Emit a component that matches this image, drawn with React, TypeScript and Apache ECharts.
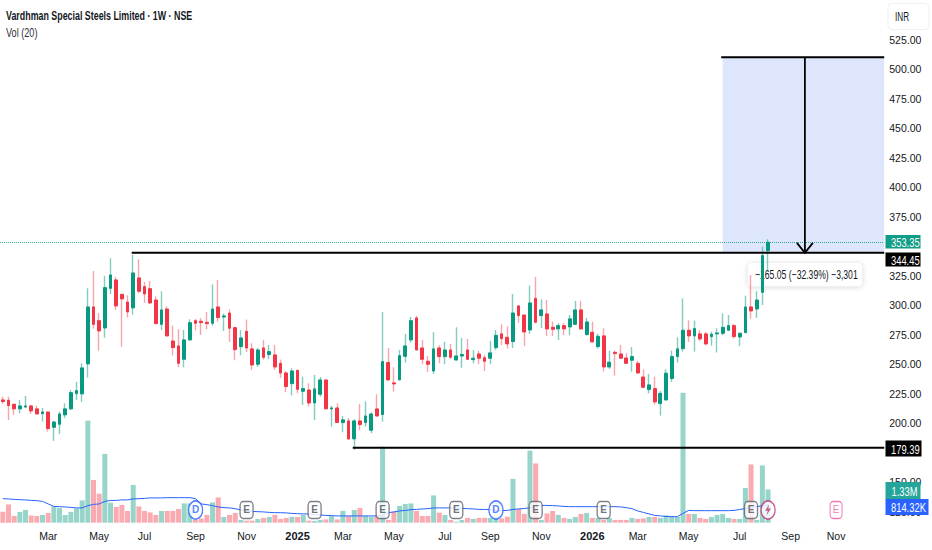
import React, { useEffect, useRef } from "react";
import * as echarts from "echarts";

const FONT = "'Liberation Sans', sans-serif";
const TITLE = "Vardhman Special Steels Limited · 1W · NSE";
const VOL_TITLE = "Vol (20)";

// weekly candles: open, close, low, high
const candles: number[][] = [
[219.9,218.5,216.5,222.7],[219.6,215.1,202.9,222.7],[216.2,212.3,207.2,216.5],[212.3,214.8,208.6,219.9],[213.9,214.8,212.8,223.3],
[214.8,210.6,208.0,215.6],[212.3,208.0,208.0,215.1],[208.3,209.7,201.5,213.1],[209.7,195.6,193.1,209.7],[196.7,201.2,185.2,202.1],
[199.3,208.0,191.1,210.0],[207.2,212.3,204.4,217.0],[212.3,226.1,211.4,228.3],[225.2,227.8,219.9,235.1],[225.0,247.0,218.2,250.9],
[250.4,298.6,238.8,314.4],[298.6,283.9,280.3,329.1],[287.0,278.3,261.6,293.5],[280.8,315.0,272.6,324.9],[314.4,325.7,309.6,339.8],
[321.5,299.5,296.1,324.0],[309.3,305.4,265.0,309.6],[302.8,294.4,289.6,308.5],[297.8,327.4,292.1,342.6],[323.2,311.9,310.2,339.0],
[315.8,309.6,302.0,319.8],[314.1,302.0,300.9,320.6],[304.5,284.5,283.9,307.6],[283.9,296.1,279.1,311.9],[296.9,274.1,273.5,299.2],
[269.8,264.2,257.4,282.8],[265.6,250.9,247.5,279.7],[254.3,270.7,247.5,279.1],[270.7,285.3,270.1,288.2],[287.0,284.8,278.9,288.5],
[286.5,285.3,274.9,289.3],[285.6,284.5,279.7,294.4],[284.8,296.9,282.8,317.8],[298.6,289.6,286.2,321.5],[290.1,291.0,278.3,293.2],
[293.5,280.6,269.0,296.6],[281.1,262.5,253.5,281.7],[265.0,272.4,257.7,279.1],[278.0,263.9,260.5,287.9],[263.1,249.5,245.3,267.9],
[250.1,262.2,247.8,263.9],[263.9,256.0,254.0,270.7],[258.3,260.8,254.3,266.4],[258.0,247.8,245.3,266.4],[250.9,242.7,238.5,254.0],
[242.7,231.2,226.4,244.4],[233.7,244.4,223.8,246.7],[245.0,228.9,225.5,245.3],[227.2,229.5,215.6,239.6],[228.3,217.3,214.2,234.0],
[217.3,229.2,202.9,241.0],[224.7,236.8,222.7,239.3],[236.8,212.3,212.0,237.1],[212.3,213.1,197.3,214.8],[213.1,200.7,200.7,217.0],
[200.7,203.0,192.5,206.3],[202.1,186.9,186.0,204.4],[186.9,202.1,177.5,203.5],[202.1,199.0,194.2,216.5],[200.7,206.3,197.3,218.7],
[194.2,208.0,191.7,209.4],[212.3,206.3,205.8,224.7],[207.5,252.3,201.5,294.4],[251.5,236.8,236.2,263.9],[234.3,233.4,226.9,247.5],
[236.8,257.4,236.8,262.2],[256.8,265.6,251.5,275.8],[270.7,287.0,268.4,290.1],[289.3,262.2,261.6,291.0],[263.9,254.3,250.1,270.7],
[252.6,250.1,243.6,257.1],[244.4,263.1,241.9,277.2],[263.9,256.6,250.9,266.4],[256.6,262.2,250.1,269.0],[262.2,256.0,254.6,267.3],
[253.7,257.1,253.2,281.4],[257.1,258.3,247.0,272.4],[262.2,254.3,253.7,271.5],[254.0,255.2,250.9,262.2],[258.8,255.2,250.1,261.4],
[255.7,252.6,244.4,258.0],[255.2,259.7,250.1,269.8],[264.2,274.6,262.2,279.1],[275.8,271.8,266.4,283.9],[272.9,267.3,263.3,282.2],
[269.3,293.5,263.9,309.6],[299.5,291.3,285.3,300.0],[291.8,277.4,265.6,291.8],[279.1,302.0,275.8,316.7],[305.9,285.6,284.8,324.0],
[291.3,296.1,280.6,305.1],[292.7,280.0,274.1,304.5],[281.4,279.7,274.1,286.2],[280.0,282.8,270.7,284.8],[282.8,280.0,274.6,284.8],
[281.7,288.5,274.6,291.8],[283.9,296.1,283.7,303.7],[296.1,280.0,279.1,303.7],[275.2,285.9,274.6,289.3],[277.2,269.0,268.7,286.2],
[265.0,273.8,263.3,275.8],[274.1,247.8,243.9,280.6],[247.8,251.8,246.1,261.6],[260.2,259.1,240.5,261.6],[258.8,255.2,254.6,266.4],
[255.4,250.9,250.4,259.4],[253.5,256.6,243.9,264.7],[250.9,242.7,242.2,252.9],[239.3,230.6,229.8,245.8],[228.6,232.6,225.5,241.9],
[229.5,218.2,216.0,239.6],[216.8,225.5,206.6,227.5],[219.9,242.5,219.3,245.8],[238.0,256.6,235.1,261.6],[256.6,263.1,251.5,272.9],
[263.3,278.9,260.8,305.9],[278.9,274.1,269.0,287.3],[274.1,280.3,260.8,287.0],[275.8,271.5,269.8,279.1],[275.8,267.3,266.2,277.4],
[273.5,275.5,265.9,277.7],[275.8,276.6,260.0,280.6],[276.3,281.4,274.6,293.2],[278.9,282.8,278.3,291.8],[282.8,273.5,271.8,284.2],
[273.2,276.3,265.6,276.9],[276.9,298.6,276.3,308.2],[298.6,295.2,288.7,325.7],[296.9,304.5,289.3,311.9],[311.0,342.1,300.3,349.7],
[346.3,353.35,328.5,355.9],
];

// weekly volume, millions
const volumes = [
.44,.73,.27,.43,.51,.29,.27,.31,.39,.65,.59,.31,.43,.57,.89,4.08,1.71,1.16,2.75,.80,
.63,.71,.47,1.51,.65,.47,.41,.31,.47,.47,.47,.55,.77,.77,.11,.17,.31,.81,1.01,.23,
.31,.39,.11,.08,.08,.15,.19,.23,.31,.15,.19,.23,.23,.31,.08,.07,.11,.13,.27,.13,
.47,.27,.51,.59,.27,.23,.27,3.04,.11,.44,.67,.75,.77,.47,.27,.27,1.09,.40,.31,.11,
.04,.11,.19,.15,.19,.19,.19,.27,.17,.24,1.75,.55,.35,2.88,2.37,.11,.37,.47,.31,.19,
.15,.23,.35,.39,.19,.19,.11,.19,.11,.11,.11,.19,.15,.17,.23,.23,.19,.29,.24,.23,
5.2,.35,.35,.19,.15,.23,.31,.35,.19,.15,.15,1.39,2.33,.11,2.29,1.33,
];

// Vol (20) average line, millions
const volumeAverage = [
.96,.95,.93,.92,.91,.89,.88,.85,.75,.65,.64,.63,.61,.59,.59,.68,.73,.75,.85,.89,
.89,.91,.91,.95,.96,.97,.99,.99,.99,1.0,1.0,1.0,1.0,1.0,.96,.75,.72,.68,.63,.60,
.59,.56,.51,.49,.45,.44,.43,.41,.40,.40,.39,.37,.36,.35,.35,.32,.31,.29,.28,.27,
.27,.27,.27,.27,.27,.27,.27,.29,.40,.43,.47,.49,.52,.53,.55,.56,.59,.59,.59,.59,
.59,.57,.56,.55,.53,.53,.52,.48,.48,.49,.53,.55,.57,.59,.64,.69,.69,.68,.67,.65,
.64,.64,.64,.64,.64,.64,.64,.64,.64,.63,.60,.56,.47,.41,.35,.29,.27,.25,.24,.24,
.37,.49,.48,.48,.48,.48,.48,.48,.48,.49,.53,.56,.61,.64,.68,.71,
];

const weekCount = 156;
const categories = Array.from({ length: weekCount }, (_, i) => `w${i}`);
const monthTicks: [number, string][] = [
  [8, "Mar"],[17, "May"],[25, "Jul"],[34, "Sep"],[43, "Nov"],[52, "2025"],[60, "Mar"],[69, "May"],[78, "Jul"],
  [86, "Sep"],[95, "Nov"],[104, "2026"],[112, "Mar"],[121, "May"],[130, "Jul"],[139, "Sep"],[147, "Nov"],
];
const hiddenPriceTicks = [100, 175, 350, 550];

const lastPrice = 353.35;
const resistance = 344.45;
const support = 179.39;
const targetPrice = 510;
const volumeLabel = "1.33M";
const averageLabel = "814.32K";
const measureLabel = "−165.05 (−32.39%) −3,301";
// start week of each horizontal drawing, price
const levels: [number, number][] = [[23, resistance], [62, support], [127, targetPrice]];
const targetStart = 127;
const arrowWeek = 141;

const earningsWeeks = [43, 55, 67, 80, 94, 106, 132];
const dividendWeeks = [34, 87];
const splitWeek = 135;
const futureEarningsWeek = 147;
const markerLevel = 0.507;

const UP = "#089981";
const DOWN = "#F23645";

const squeezed = (text: string, x: number, y: number, fill: string, fontSize = 12.5, scaleX = 0.75, z = 21) => ({
  type: "text",
  x,
  y,
  z,
  scaleX,
  style: { text, fontFamily: FONT, fontSize, fill },
});

export default function App() {
  const ref = useRef<HTMLDivElement>(null);
  useEffect(() => {
    document.body.style.margin = "0";
    const chart = echarts.init(ref.current!, undefined, { renderer: "svg" });
    const tickMap = new Map(monthTicks);
    const lastWeek = weekCount - 1;

    const rightEdge = (api: any, price: number) =>
      api.coord([lastWeek, price])[0] + api.size([1, 0])[0] / 2;

    chart.setOption({
      animation: false,
      backgroundColor: "#fff",
      grid: [
        { left: -1.84, width: 886.08, top: 10.06, height: 531.45 },
        { left: -1.84, width: 886.08, top: 322.67, height: 200 },
      ],
      xAxis: [
        { type: "category", gridIndex: 0, data: categories, show: false },
        {
          type: "category",
          gridIndex: 1,
          data: categories,
          axisLine: { show: false },
          axisTick: { show: false },
          splitLine: { show: false },
          axisLabel: {
            interval: (i: number) => tickMap.has(i),
            hideOverlap: false,
            margin: 8,
            fontFamily: FONT,
            fontSize: 10.5,
            color: "#131722",
            formatter: (_: string, i: number) => {
              const t = tickMap.get(i) ?? "";
              return /^\d+$/.test(t) ? `{y|${t}}` : t;
            },
            rich: { y: { fontFamily: FONT, fontSize: 11, fontWeight: "bold", color: "#131722" } },
          },
        },
      ],
      yAxis: [
        {
          type: "value",
          gridIndex: 0,
          position: "right",
          min: 100,
          max: 550,
          interval: 25,
          axisLine: { show: false },
          axisTick: { show: false },
          splitLine: { show: false },
          axisLabel: {
            margin: 5,
            fontFamily: FONT,
            fontSize: 10.5,
            color: "#131722",
            formatter: (v: number) => (hiddenPriceTicks.includes(v) ? "" : v.toFixed(2)),
          },
        },
        { type: "value", gridIndex: 1, min: 0, max: 8, show: false },
      ],
      series: [
        {
          name: "Target zone",
          type: "custom",
          xAxisIndex: 0,
          yAxisIndex: 0,
          z: 1,
          data: [[targetStart, targetPrice]],
          renderItem: (_: any, api: any) => {
            const a = api.coord([targetStart, targetPrice]);
            const b = api.coord([lastWeek, resistance]);
            return {
              type: "rect",
              shape: { x: a[0], y: a[1], width: rightEdge(api, resistance) - a[0], height: b[1] - a[1] - 1 },
              style: { fill: "#dee6fd" },
            };
          },
        },
        {
          name: "Volume",
          type: "bar",
          xAxisIndex: 1,
          yAxisIndex: 1,
          barWidth: 5,
          z: 2,
          data: volumes,
          itemStyle: {
            color: (p: any) =>
              candles[p.dataIndex][1] >= candles[p.dataIndex][0] ? "rgba(8,153,129,0.42)" : "rgba(242,54,69,0.42)",
          },
        },
        {
          name: "Vol MA",
          type: "line",
          xAxisIndex: 1,
          yAxisIndex: 1,
          z: 3,
          symbol: "none",
          data: volumeAverage,
          lineStyle: { color: "#2962ff", width: 1 },
        },
        {
          name: "Wicks",
          type: "candlestick",
          xAxisIndex: 0,
          yAxisIndex: 0,
          z: 4,
          barWidth: 1,
          data: candles,
          itemStyle: {
            color: "rgba(8,153,129,0.5)",
            color0: "rgba(242,54,69,0.45)",
            borderColor: "rgba(8,153,129,0.5)",
            borderColor0: "rgba(242,54,69,0.45)",
            borderWidth: 1.4,
          },
          markLine: {
            silent: true,
            symbol: "none",
            label: { show: false },
            lineStyle: { color: UP, type: "dotted", width: 1, opacity: 0.8 },
            data: [{ yAxis: lastPrice }],
          },
        },
        {
          name: "Bodies",
          type: "candlestick",
          xAxisIndex: 0,
          yAxisIndex: 0,
          z: 5,
          barWidth: 3.2,
          data: candles.map(([o, c]) => [o, c, Math.min(o, c), Math.max(o, c)]),
          itemStyle: { color: UP, color0: DOWN, borderColor: UP, borderColor0: DOWN, borderWidth: 1 },
        },
        {
          name: "Levels",
          type: "custom",
          xAxisIndex: 0,
          yAxisIndex: 0,
          z: 6,
          data: levels,
          renderItem: (p: any, api: any) => {
            const [week, price] = levels[p.dataIndex];
            const a = api.coord([week, price]);
            return {
              type: "line",
              shape: { x1: a[0] - 1.5, y1: a[1], x2: rightEdge(api, price), y2: a[1] },
              style: { stroke: "#000", lineWidth: 2 },
            };
          },
        },
        {
          name: "Arrow",
          type: "custom",
          xAxisIndex: 0,
          yAxisIndex: 0,
          z: 6,
          data: [[arrowWeek, targetPrice]],
          renderItem: (_: any, api: any) => {
            const top = api.coord([arrowWeek, targetPrice]);
            const tip = api.coord([arrowWeek, resistance]);
            const x = top[0] + api.size([1, 0])[0] / 2;
            return {
              type: "group",
              children: [
                { type: "line", shape: { x1: x, y1: top[1], x2: x, y2: tip[1] }, style: { stroke: "#000", lineWidth: 1.8 } },
                {
                  type: "polyline",
                  shape: { points: [[x - 8, tip[1] - 10], [x, tip[1]], [x + 8, tip[1] - 10]] },
                  style: { stroke: "#000", lineWidth: 1.8, fill: "none" },
                },
              ],
            };
          },
        },
        {
          name: "Earnings",
          type: "scatter",
          xAxisIndex: 1,
          yAxisIndex: 1,
          z: 7,
          symbol: "roundRect",
          symbolSize: [13, 17],
          data: earningsWeeks.map((w) => [w, markerLevel]),
          itemStyle: { color: "#fff", borderColor: "#5d606b", borderWidth: 1.5 },
          label: { show: true, position: "inside", formatter: "E", fontFamily: FONT, fontSize: 10, fontWeight: "bold", color: "#4a4d57" },
        },
        {
          name: "Dividends",
          type: "scatter",
          xAxisIndex: 1,
          yAxisIndex: 1,
          z: 7,
          symbol: "circle",
          symbolSize: [14, 18],
          data: dividendWeeks.map((w) => [w, markerLevel]),
          itemStyle: { color: "#fff", borderColor: "#2962ff", borderWidth: 1.5 },
          label: { show: true, position: "inside", formatter: "D", fontFamily: FONT, fontSize: 10, fontWeight: "bold", color: "#2962ff" },
        },
        {
          name: "Split",
          type: "scatter",
          xAxisIndex: 1,
          yAxisIndex: 1,
          z: 7,
          symbol: "circle",
          symbolSize: [14, 18],
          data: [[splitWeek, markerLevel]],
          itemStyle: { color: "#fff", borderColor: "#c2337f", borderWidth: 1.5 },
        },
        {
          name: "Split glyph",
          type: "scatter",
          xAxisIndex: 1,
          yAxisIndex: 1,
          z: 8,
          symbol: "path://M6 0 L0 9 L4 9 L2 16 L9 6 L5 6 Z",
          symbolSize: [6, 11],
          data: [[splitWeek, markerLevel]],
          itemStyle: { color: "#c2337f" },
        },
        {
          name: "Future earnings",
          type: "scatter",
          xAxisIndex: 1,
          yAxisIndex: 1,
          z: 7,
          symbol: "roundRect",
          symbolSize: [12, 17],
          data: [[futureEarningsWeek, markerLevel]],
          itemStyle: { color: "#fff", borderColor: "#ec5aa8", borderWidth: 1.2 },
          label: { show: true, position: "inside", formatter: "E", fontFamily: FONT, fontSize: 10, color: "#ec5aa8" },
        },
      ],
      graphic: [
        { type: "text", x: 6, y: 9, scaleX: 0.71, style: { text: TITLE, fontFamily: FONT, fontSize: 12.5, fontWeight: "bold", fill: "#131722" } },
        { type: "text", x: 6, y: 26, scaleX: 0.73, style: { text: VOL_TITLE, fontFamily: FONT, fontSize: 12.5, fill: "#2a2e39" } },
        { type: "rect", shape: { x: 888, y: 3.5, width: 41, height: 26, r: 4 }, style: { fill: "#fff", stroke: "#eceff3", lineWidth: 1 }, z: 20 },
        squeezed("INR", 895, 11, "#131722", 12, 0.68),
        {
          type: "rect",
          z: 1,
          shape: { x: 747.5, y: 262.5, width: 115, height: 24, r: 4 },
          style: { fill: "#fff", stroke: "#f0f1f3", lineWidth: 1, shadowBlur: 5, shadowColor: "rgba(0,0,0,0.12)", shadowOffsetY: 1 },
        },
        squeezed(measureLabel, 755, 268, "#131722", 12.5, 0.69, 1),
        { type: "rect", z: 20, shape: { x: 885.5, y: 235, width: 35, height: 13.5 }, style: { fill: "#0f9d85" } },
        squeezed(lastPrice.toFixed(2), 891, 236, "#fff"),
        { type: "rect", z: 20, shape: { x: 885.5, y: 252.5, width: 35, height: 14 }, style: { fill: "#000" } },
        squeezed(resistance.toFixed(2), 891, 254, "#fff"),
        { type: "rect", z: 20, shape: { x: 885.5, y: 440.5, width: 36, height: 16 }, style: { fill: "#000" } },
        squeezed(support.toFixed(2), 891, 442.5, "#fff"),
        { type: "rect", z: 20, shape: { x: 885.5, y: 482, width: 35, height: 17 }, style: { fill: "#26a69a" } },
        squeezed(volumeLabel, 891.5, 484.5, "#fff"),
        { type: "rect", z: 20, shape: { x: 885.5, y: 499, width: 43, height: 16 }, style: { fill: "#2962ff" } },
        squeezed(averageLabel, 891, 501, "#fff"),
      ],
    });
    return () => chart.dispose();
  }, []);
  return <div ref={ref} style={{ width: 932, height: 550 }} />;
}
